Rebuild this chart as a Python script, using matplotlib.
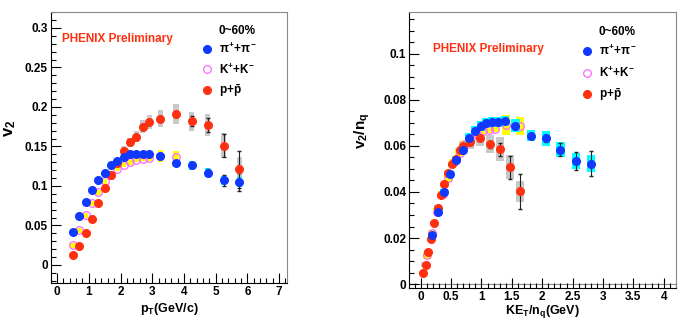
import matplotlib.pyplot as plt
from matplotlib.lines import Line2D
from matplotlib.ticker import MultipleLocator, FuncFormatter

plt.rcParams['font.family'] = ['Liberation Sans Narrow', 'Liberation Sans', 'DejaVu Sans']
plt.rcParams['font.weight'] = 'bold'
plt.rcParams['mathtext.fontset'] = 'custom'
plt.rcParams['mathtext.rm'] = 'Liberation Sans:bold'
plt.rcParams['mathtext.bf'] = 'Liberation Sans:bold'
plt.rcParams['mathtext.it'] = 'Liberation Sans:bold'
plt.rcParams['mathtext.sf'] = 'Liberation Sans:bold'

# ---- left panel: v2 vs pT ----
pt_pion = [0.5, 0.7, 0.9, 1.1, 1.3, 1.5, 1.7, 1.9, 2.1, 2.3, 2.5, 2.7, 2.9, 3.25, 3.75, 4.25, 4.75, 5.25, 5.75]
v2_pion = [0.042, 0.062, 0.080, 0.095, 0.107, 0.117, 0.126, 0.132, 0.137, 0.140, 0.140, 0.141, 0.141,
           0.138, 0.129, 0.126, 0.117, 0.107, 0.105]
stat_pion = [0.001] * 13 + [0.002, 0.002, 0.003, 0.004, 0.007, 0.011]
sys_pion = [0.002] * 13 + [0.004, 0.004, 0.006, 0.006, 0.006, 0.006]

pt_kaon = [0.5, 0.7, 0.9, 1.1, 1.3, 1.5, 1.7, 1.9, 2.1, 2.3, 2.5, 2.7, 2.9, 3.25, 3.75]
v2_kaon = [0.025, 0.044, 0.063, 0.078, 0.092, 0.106, 0.114, 0.122, 0.127, 0.130, 0.133, 0.134, 0.135,
           0.138, 0.137]
sys_kaon = [0.003] * 13 + [0.008, 0.007]

pt_prot = [0.5, 0.7, 0.9, 1.1, 1.3, 1.5, 1.7, 1.9, 2.1, 2.3, 2.5, 2.7, 2.9, 3.25, 3.75, 4.25, 4.75, 5.25, 5.75]
v2_prot = [0.013, 0.024, 0.041, 0.058, 0.078, 0.098, 0.114, 0.129, 0.144, 0.155, 0.162, 0.175, 0.181,
           0.185, 0.191, 0.182, 0.177, 0.151, 0.121]
stat_prot = [0.001] * 8 + [0.002, 0.002, 0.002, 0.003, 0.003, 0.003, 0.004, 0.006, 0.009, 0.015, 0.023]
sys_prot = [0.002] * 8 + [0.006, 0.006, 0.007, 0.008, 0.009, 0.011, 0.013, 0.012, 0.014, 0.016, 0.016]

# ---- right panel: v2/nq vs KEt/nq ----
ket_pion = [0.19, 0.29, 0.38, 0.48, 0.58, 0.69, 0.79, 0.89, 0.99, 1.08, 1.18, 1.28, 1.39, 1.56, 1.81, 2.06, 2.30, 2.56, 2.80]
v2nq_pion = [0.0211, 0.0312, 0.0399, 0.0477, 0.0538, 0.0584, 0.0634, 0.0663, 0.0685, 0.0699, 0.0702, 0.0705, 0.0707,
             0.0688, 0.0643, 0.0632, 0.0584, 0.0535, 0.0523]
stat_pion_nq = [0.0005] * 13 + [0.001, 0.001, 0.0015, 0.003, 0.004, 0.0055]
sys_pion_nq = [0.0015] * 6 + [0.0022] * 7 + [0.0028, 0.0024, 0.0032, 0.0032, 0.0036, 0.0037]

ket_kaon = [0.10, 0.18, 0.27, 0.36, 0.45, 0.54, 0.64, 0.73, 0.83, 0.93, 1.03, 1.12, 1.22, 1.40, 1.64]
v2nq_kaon = [0.0125, 0.022, 0.0315, 0.039, 0.046, 0.053, 0.057, 0.061, 0.0635, 0.065, 0.0665, 0.067, 0.0675,
             0.069, 0.0685]
sys_kaon_nq = [0.0015] * 13 + [0.0045, 0.004]

ket_prot = [0.04, 0.08, 0.12, 0.17, 0.22, 0.28, 0.34, 0.39, 0.45, 0.52, 0.58, 0.64, 0.70, 0.81, 0.98, 1.14, 1.30, 1.47, 1.63]
v2nq_prot = [0.0049, 0.0085, 0.014, 0.0195, 0.0266, 0.0332, 0.0385, 0.0435, 0.048, 0.052, 0.0545, 0.058, 0.060,
             0.0615, 0.0635, 0.0607, 0.0585, 0.0508, 0.0402]
stat_prot_nq = [0.0004] * 14 + [0.001, 0.0015, 0.0029, 0.005, 0.0077]
sys_prot_nq = [0.001] * 12 + [0.002, 0.003, 0.0036, 0.004, 0.0052, 0.0054, 0.0045]

BLUE = '#1038ff'
RED = '#ff3010'
MAG = '#ff66ff'


def boxes(ax, x, y, err, halfw, color):
    ax.bar(x, [2 * e for e in err], bottom=[v - e for v, e in zip(y, err)],
           width=2 * halfw, color=color, linewidth=0, zorder=1)


def draw_panel(ax, xp, yp, sp, ep, xk, yk, ek, xr, yr, sr, er, halfw, ms):
    boxes(ax, xr, yr, er, halfw, '#c8c8c8')
    boxes(ax, xk, yk, ek, halfw, '#ffff00')
    boxes(ax, xp, yp, ep, halfw, '#00ffff')
    ax.errorbar(xr, yr, yerr=sr, fmt='none', ecolor='#222222', elinewidth=0.8, capsize=1.5, zorder=2)
    ax.errorbar(xp, yp, yerr=sp, fmt='none', ecolor='#222222', elinewidth=0.8, capsize=1.5, zorder=2)
    ax.plot(xk, yk, 'o', ms=ms, mfc='none', mec=MAG, mew=0.9, zorder=3)
    ax.plot(xr, yr, 'o', ms=ms, color=RED, mec=RED, zorder=4)
    ax.plot(xp, yp, 'o', ms=ms, color=BLUE, mec=BLUE, zorder=5)


def style(ax):
    ax.tick_params(which='both', direction='in', top=False, right=False, labelsize=8.5, pad=2, width=0.8)
    ax.tick_params(which='major', length=7)
    ax.tick_params(which='minor', length=3.5)
    ax.spines['top'].set_color('#888888')
    ax.spines['right'].set_color('#888888')
    fmt = FuncFormatter(lambda v, p: '%g' % round(v, 4))
    ax.xaxis.set_major_formatter(fmt)
    ax.yaxis.set_major_formatter(fmt)


def add_legend(ax, x, y, spacing):
    handles = [Line2D([], [], ls='none', marker='o', ms=5.5, color=BLUE),
               Line2D([], [], ls='none', marker='o', ms=5.5, mfc='white', mec=MAG, mew=0.9),
               Line2D([], [], ls='none', marker='o', ms=5.5, color=RED)]
    labels = [r'$\pi^{+}$+$\pi^{-}$', r'K$^{+}$+K$^{-}$', r'p+$\bar{\rm p}$']
    ax.legend(handles, labels, loc='upper left', bbox_to_anchor=(x, y), frameon=False,
              handlelength=1.0, handletextpad=0.5, borderpad=0, borderaxespad=0,
              labelspacing=spacing, fontsize=8.5)


fig = plt.figure(figsize=(6.9, 3.19), dpi=100)
ax1 = fig.add_axes([0.0735, 0.113, 0.3425, 0.849])
ax2 = fig.add_axes([0.593, 0.097, 0.3865, 0.865])

# left
draw_panel(ax1, pt_pion, v2_pion, stat_pion, sys_pion, pt_kaon, v2_kaon, sys_kaon,
           pt_prot, v2_prot, stat_prot, sys_prot, 0.08, 5.5)
ax1.set_xlim(-0.2, 7.25)
ax1.set_ylim(-0.0228, 0.32)
ax1.xaxis.set_major_locator(MultipleLocator(1))
ax1.xaxis.set_minor_locator(MultipleLocator(0.2))
ax1.yaxis.set_major_locator(MultipleLocator(0.05))
ax1.yaxis.set_minor_locator(MultipleLocator(0.01))
style(ax1)
ax1.set_xlabel(r'p$_{\rm T}$(GeV/c)', fontsize=9, fontweight='bold')
ax1.set_ylabel(r'v$_{2}$', fontsize=12, fontweight='bold')
ax1.xaxis.set_label_coords(0.5, -0.065)
ax1.yaxis.set_label_coords(-0.14, 0.57)
ax1.text(0.048, 0.90, 'PHENIX Preliminary', transform=ax1.transAxes, color='#ff3010',
         fontsize=8.5, fontweight='bold', va='center')
ax1.text(0.708, 0.93, '0~60%', transform=ax1.transAxes, fontsize=8.5, fontweight='bold', va='center')
add_legend(ax1, 0.638, 0.891, 0.5)

# right
draw_panel(ax2, ket_pion, v2nq_pion, stat_pion_nq, sys_pion_nq, ket_kaon, v2nq_kaon, sys_kaon_nq,
           ket_prot, v2nq_prot, stat_prot_nq, sys_prot_nq, 0.068, 5.5)
ax2.set_xlim(-0.19, 4.2)
ax2.set_ylim(-0.0017, 0.118)
ax2.xaxis.set_major_locator(MultipleLocator(0.5))
ax2.xaxis.set_minor_locator(MultipleLocator(0.1))
ax2.yaxis.set_major_locator(MultipleLocator(0.02))
ax2.yaxis.set_minor_locator(MultipleLocator(0.005))
style(ax2)
ax2.axhline(0, color='#888888', lw=0.8, zorder=0)
ax2.set_xlabel(r'KE$_{\rm T}$/n$_{\rm q}$(GeV)', fontsize=9, fontweight='bold')
ax2.set_ylabel(r'v$_{2}$/n$_{\rm q}$', fontsize=11, fontweight='bold')
ax2.xaxis.set_label_coords(0.5, -0.055)
ax2.yaxis.set_label_coords(-0.14, 0.57)
ax2.text(0.089, 0.866, 'PHENIX Preliminary', transform=ax2.transAxes, color='#ff3010',
         fontsize=8.5, fontweight='bold', va='center')
ax2.text(0.711, 0.928, '0~60%', transform=ax2.transAxes, fontsize=8.5, fontweight='bold', va='center')
add_legend(ax2, 0.646, 0.886, 0.6)

fig.savefig('out.png', dpi=100)
